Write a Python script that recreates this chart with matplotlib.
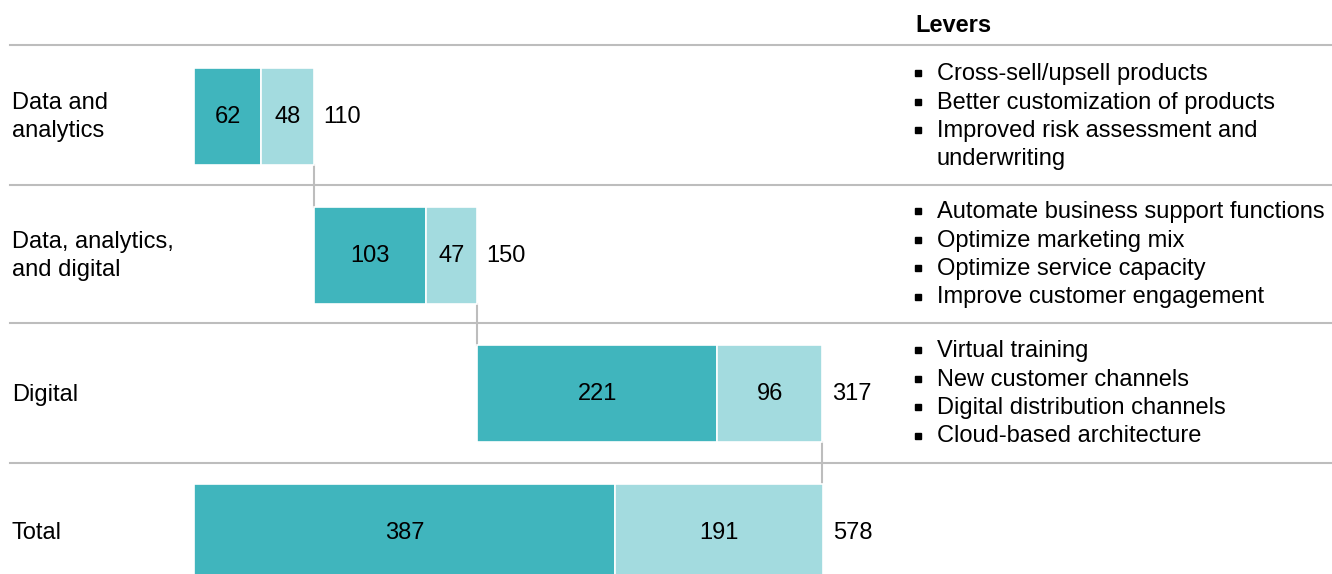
import matplotlib
matplotlib.use("Agg")
import matplotlib.pyplot as plt

plt.rcParams['font.family'] = ['Liberation Sans', 'DejaVu Sans']

# Waterfall data: impact split into two components per lever group
categories = ["Data and\nanalytics", "Data, analytics,\nand digital", "Digital", "Total"]
primary = [62, 103, 221, 387]
secondary = [48, 47, 96, 191]
totals = [110, 150, 317, 578]
starts = [0, 110, 260, 0]

levers = [
    ["Cross-sell/upsell products", "Better customization of products",
     "Improved risk assessment and\nunderwriting"],
    ["Automate business support functions", "Optimize marketing mix",
     "Optimize service capacity", "Improve customer engagement"],
    ["Virtual training", "New customer channels",
     "Digital distribution channels", "Cloud-based architecture"],
]

DARK = "#40B5BD"
LIGHT = "#A3DBDF"
GRID = "#BDBDBD"
FS = 17

W, H = 1332, 574
fig = plt.figure(figsize=(W / 100, H / 100), dpi=100)

# pixel-space overlay for rules and text
ax_px = fig.add_axes([0, 0, 1, 1])
ax_px.set_xlim(0, W)
ax_px.set_ylim(H, 0)
ax_px.axis("off")

# data axes: value scale mapped so the bars start at x=194 and 578 ends at x=823
x0, x1 = 194, 823
scale = (x1 - x0) / totals[-1]
ax = fig.add_axes([0, 0, 1, 1], facecolor="none")
ax.set_xlim(-x0 / scale, (W - x0) / scale)
ax.set_ylim(H, 0)
ax.axis("off")

row_y = [116, 255, 393.5, 532]
bar_h = 97

# horizontal separators
for y in [45, 185, 323, 463]:
    ax_px.plot([10, W], [y, y], color=GRID, lw=1.5, zorder=1)

for i, cat in enumerate(categories):
    y = row_y[i]
    ax.barh(y, primary[i], left=starts[i], height=bar_h, color=DARK,
            edgecolor="white", linewidth=1.2, zorder=3)
    ax.barh(y, secondary[i], left=starts[i] + primary[i], height=bar_h,
            color=LIGHT, edgecolor="white", linewidth=1.2, zorder=3)
    ax.text(starts[i] + primary[i] / 2, y + 1, str(primary[i]), ha="center",
            va="center", fontsize=FS, color="black", zorder=4)
    ax.text(starts[i] + primary[i] + secondary[i] / 2, y + 1, str(secondary[i]),
            ha="center", va="center", fontsize=FS, color="black", zorder=4)
    end = starts[i] + totals[i]
    ax.annotate(str(totals[i]), (end, y + 1), xytext=(7, 0),
                textcoords="offset points", ha="left", va="center",
                fontsize=FS, color="black")
    ax_px.text(12, y + 1, cat, ha="left", va="center", fontsize=FS,
               linespacing=1.32)

# connectors between consecutive bars
for i in range(len(categories) - 1):
    end = starts[i] + totals[i]
    ax.plot([end, end], [row_y[i] + bar_h / 2, row_y[i + 1] - bar_h / 2],
            color=GRID, lw=1.5, zorder=2)

# lever lists
ax_px.text(915, 25, "Levers", ha="left", va="center", fontsize=FS,
           fontweight="bold")
lever_tops = [73, 211, 350]
line_h = 28.5
for top, items in zip(lever_tops, levers):
    k = 0
    for item in items:
        ax_px.plot(918, top + k * line_h, marker="s", markersize=4.6,
                   color="black", linestyle="none")
        for j, line in enumerate(item.split("\n")):
            ax_px.text(937, top + (k + j) * line_h + 1, line, ha="left",
                       va="center", fontsize=FS)
        k += len(item.split("\n"))

fig.savefig("out.png", dpi=100, facecolor="white")
